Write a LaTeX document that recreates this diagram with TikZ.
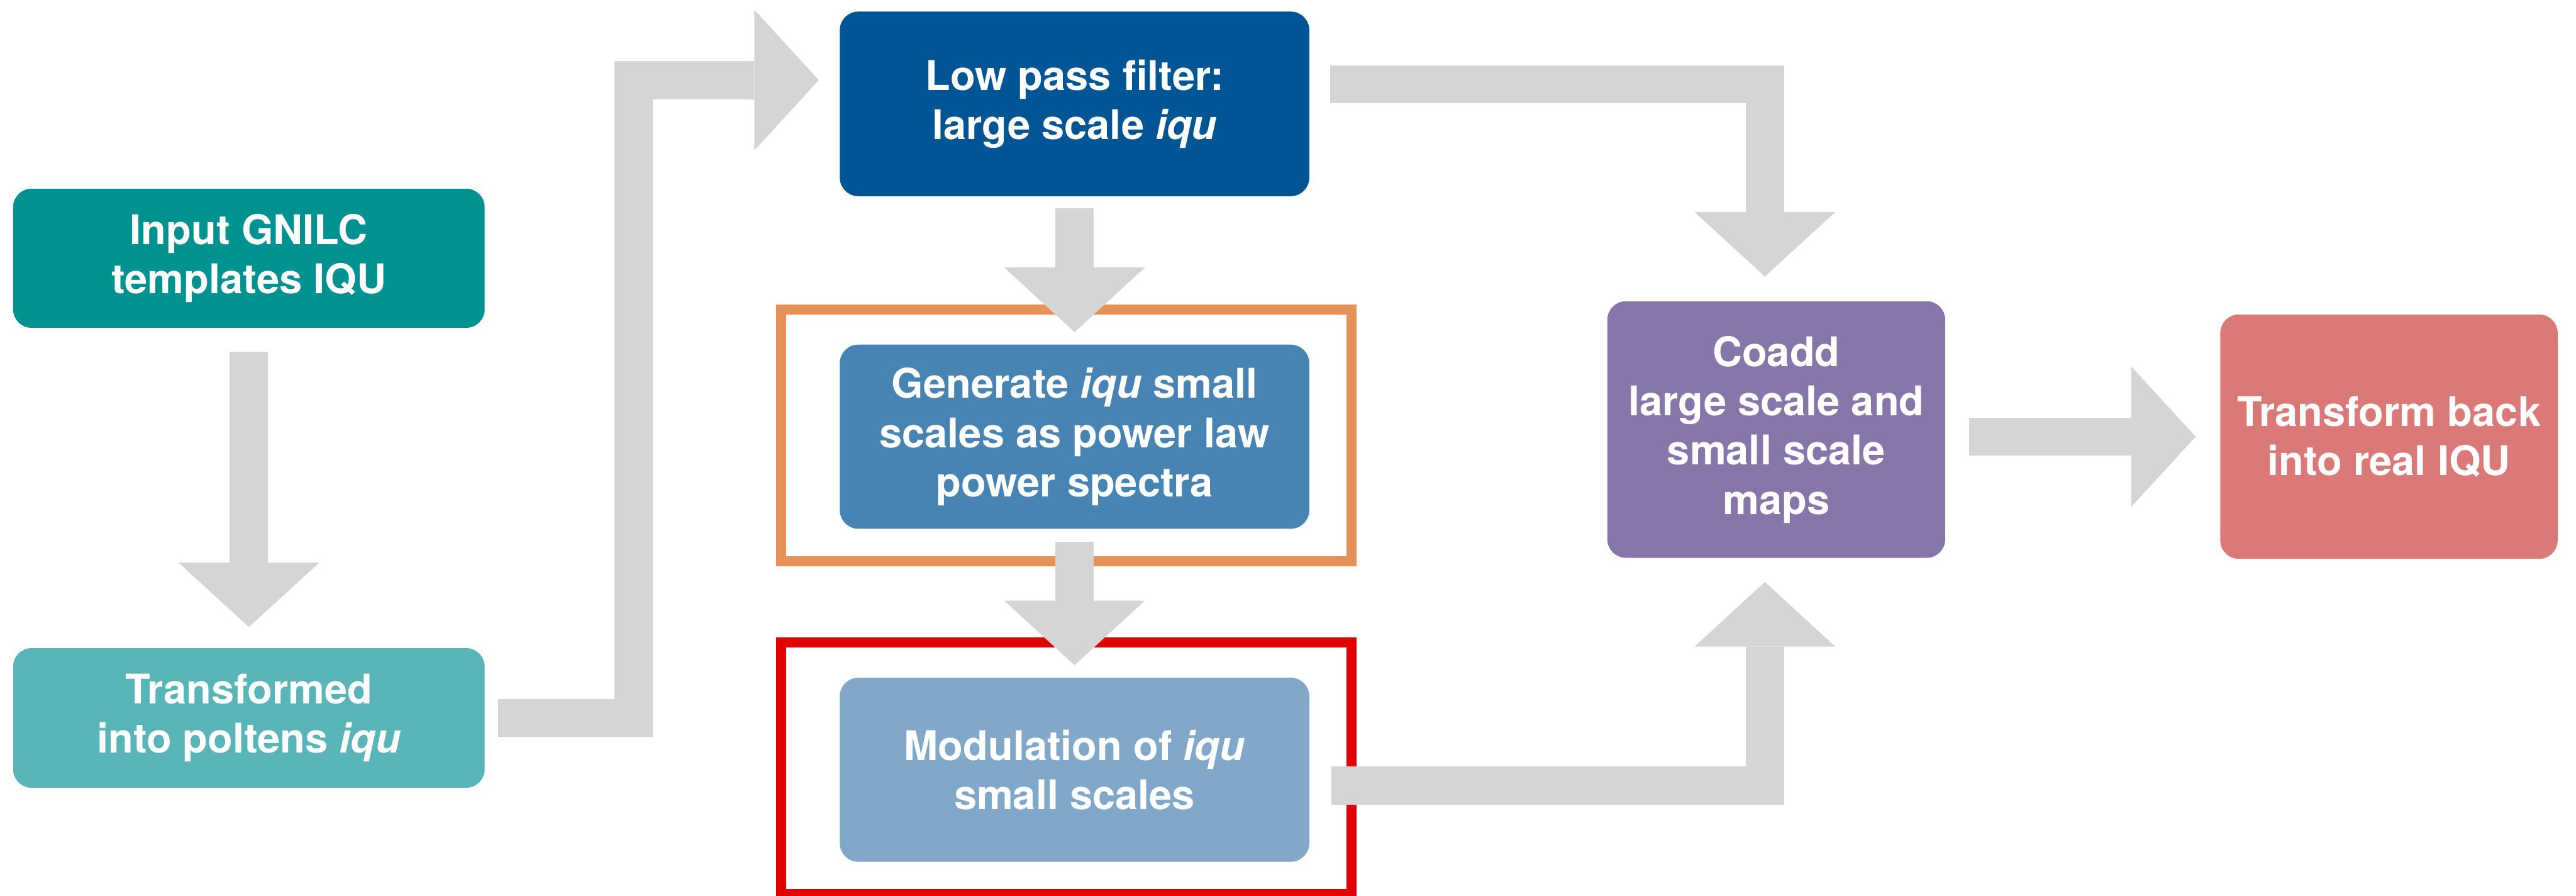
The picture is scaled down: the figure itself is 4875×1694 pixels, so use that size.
\documentclass[tikz,border=0pt]{standalone}
\usepackage{fontspec}
\setmainfont{TeX Gyre Heros}
\usetikzlibrary{arrows.meta}

\definecolor{inputteal}{HTML}{009290}
\definecolor{poltensteal}{HTML}{59B5B7}
\definecolor{lowpassblue}{HTML}{025594}
\definecolor{generateblue}{HTML}{4784B4}
\definecolor{modblue}{HTML}{81A8C8}
\definecolor{coaddpurple}{HTML}{8776AA}
\definecolor{backred}{HTML}{DB7979}
\definecolor{frameorange}{HTML}{E5925A}
\definecolor{framered}{HTML}{E30000}
\definecolor{arrowgray}{HTML}{D5D5D5}

\tikzset{
  stage/.style={rounded corners=0.35cm, text=white, align=center, inner sep=0pt,
    font=\fontsize{22pt}{26.5pt}\selectfont\bfseries},
  blockarrow/.style={draw=arrowgray, line width=0.72cm, line join=miter, line cap=butt,
    -{Triangle[width=2.66cm,length=1.22cm,line width=0pt]}},
  stageframe/.style={line width=0.19cm, inner sep=0pt}
}

\begin{document}
\begin{tikzpicture}[x=0.01cm,y=-0.01cm]
\useasboundingbox (0,0) rectangle (4875,1694);

% highlight frames around the small-scale steps
\node[stageframe, draw=frameorange, minimum width=10.79cm, minimum height=4.75cm] (Dframe) at (2017.5,823.5) {};
\node[stageframe, draw=framered, minimum width=10.79cm, minimum height=4.76cm] (Eframe) at (2017.5,1453.5) {};

% processing stages
\node[stage, fill=inputteal, minimum width=8.92cm, minimum height=2.63cm] (A) at (471,488.5)
  {Input GNILC\\templates IQU};
\node[stage, fill=poltensteal, minimum width=8.92cm, minimum height=2.64cm] (B) at (471,1358)
  {Transformed\\into poltens \textit{iqu}};
\node[stage, fill=lowpassblue, minimum width=8.88cm, minimum height=3.49cm] (C) at (2033.5,196.5)
  {Low pass filter:\\large scale \textit{iqu}};
\node[stage, fill=generateblue, minimum width=8.88cm, minimum height=3.48cm] (D) at (2033.5,826)
  {Generate \textit{iqu} small\\scales as power law\\power spectra};
\node[stage, fill=modblue, minimum width=8.88cm, minimum height=3.48cm] (E) at (2033.5,1456)
  {Modulation of \textit{iqu}\\small scales};
\node[stage, fill=coaddpurple, minimum width=6.39cm, minimum height=4.85cm] (F) at (3361.5,812.5)
  {Coadd\\large scale and\\small scale\\maps};
\node[stage, fill=backred, minimum width=6.38cm, minimum height=4.62cm] (G) at (4521,826)
  {Transform back\\into real IQU};

% bends and ends of the connectors
\coordinate (bc1) at (1199,1358);
\coordinate (bc2) at (1199,151.5);
\coordinate (cf) at (3340,159.5);
\coordinate (ef) at (3340,1486);
\coordinate (cright) at ([xshift=0.39cm]C.east);
\coordinate (eright) at ([xshift=0.41cm]E.east);
\coordinate (ftop) at ([yshift=0.46cm]F.north);
\coordinate (fbot) at ([yshift=-0.45cm]F.south);
\coordinate (fright) at ([xshift=0.45cm]F.east);

% connectors
\draw[blockarrow] ([yshift=-0.45cm]A.south) -- ([yshift=0.39cm]B.north);
\draw[blockarrow] ([xshift=0.25cm]B.east) -- (bc1) -- (bc2) -- ([xshift=-0.39cm]C.west |- bc2);
\draw[blockarrow] ([yshift=-0.22cm]C.south) -- ([yshift=0.23cm]D.north);
\draw[blockarrow] ([yshift=-0.24cm]D.south) -- ([yshift=0.23cm]E.north);
\draw[blockarrow] (cright |- cf) -- (cf) -- (ftop -| cf);
\draw[blockarrow] (eright |- ef) -- (ef) -- (fbot -| ef);
\draw[blockarrow] (fright |- G.west) -- ([xshift=-0.46cm]G.west);
\end{tikzpicture}
\end{document}
